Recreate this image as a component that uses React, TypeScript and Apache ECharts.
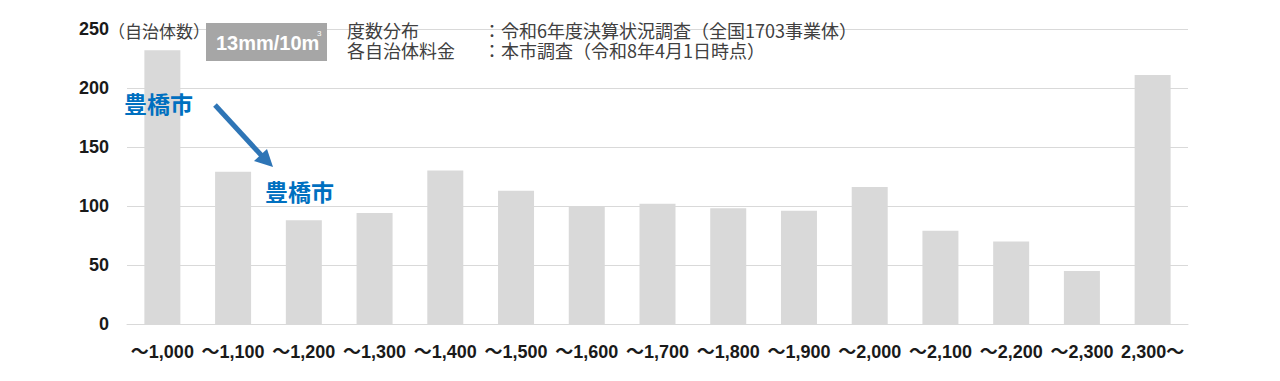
import React, { useEffect, useRef } from "react";
import * as echarts from "echarts";

const categories = ["～1,000", "～1,100", "～1,200", "～1,300", "～1,400", "～1,500", "～1,600", "～1,700", "～1,800", "～1,900", "～2,000", "～2,100", "～2,200", "～2,300", "2,300～"];
const counts = [232, 129, 88, 94, 130, 113, 100, 102, 98, 96, 116, 79, 70, 45, 211];
const yTicks = { min: 0, max: 250, interval: 50 };
const unitLabel = "（自治体数）";
const badgeText = "13mm/10m";
const legendKeys = ["度数分布", "各自治体料金"];
const legendValues = ["：令和6年度決算状況調査（全国1703事業体）", "：本市調査（令和8年4月1日時点）"];
const cityName = "豊橋市";

const CJK = "'Noto Sans CJK JP', 'Noto Sans', sans-serif";
const LAT = "'Liberation Sans', Arial, 'Noto Sans CJK JP', sans-serif";

export default function App() {
  const ref = useRef<HTMLDivElement>(null);
  useEffect(() => {
    if (!ref.current) return;
    const chart = echarts.init(ref.current, null, { renderer: "svg" });
    const textColor = "#404040";
    const t = (x: number, y: number, text: string, extra: any) => ({
      type: "text",
      x,
      y,
      z: 100,
      style: { text, fill: textColor, fontFamily: CJK, align: "left", verticalAlign: "middle", ...extra },
    });
    chart.setOption({
      animation: false,
      grid: { left: 127, right: 92, top: 29, bottom: 57, containLabel: false },
      xAxis: {
        type: "category",
        data: categories,
        axisLine: { show: true, lineStyle: { color: "#d9d9d9", width: 1 } },
        axisTick: { show: false },
        axisLabel: {
          interval: 0,
          margin: 19,
          color: "#1a1a1a",
          fontSize: 18,
          fontWeight: "bold",
          fontFamily: LAT,
        },
      },
      yAxis: {
        type: "value",
        min: yTicks.min,
        max: yTicks.max,
        interval: yTicks.interval,
        axisLine: { show: false },
        axisTick: { show: false },
        splitLine: { lineStyle: { color: "#d9d9d9", width: 1 } },
        axisLabel: {
          margin: 18,
          color: "#1a1a1a",
          fontSize: 18,
          fontWeight: "bold",
          fontFamily: LAT,
        },
      },
      series: [
        {
          type: "bar",
          data: counts,
          barWidth: 36,
          itemStyle: { color: "#d9d9d9" },
          silent: true,
          z: 2,
        },
      ],
      graphic: [
        t(108, 30, unitLabel, { fontSize: 17, lineHeight: 17 }),
        {
          type: "rect",
          z: 100,
          shape: { x: 206, y: 23, width: 121, height: 38 },
          style: { fill: "#a6a6a6" },
        },
        t(216, 43, badgeText, { fontSize: 20, lineHeight: 20, fontWeight: "bold", fill: "#ffffff", fontFamily: LAT }),
        t(317, 33, "3", { fontSize: 8, lineHeight: 8, fill: "#ffffff", fontFamily: LAT }),
        t(347, 40, legendKeys.join("\n"), { fontSize: 18, lineHeight: 20 }),
        t(483, 40, legendValues.join("\n"), { fontSize: 18, lineHeight: 20 }),
        t(124, 103, cityName, { fontSize: 23, lineHeight: 23, fontWeight: "bold", fill: "#0070c0" }),
        t(265, 191, cityName, { fontSize: 23, lineHeight: 23, fontWeight: "bold", fill: "#0070c0" }),
        {
          type: "line",
          z: 100,
          shape: { x1: 215, y1: 105, x2: 262, y2: 156 },
          style: { stroke: "#2e75b6", lineWidth: 5 },
        },
        {
          type: "polygon",
          z: 100,
          shape: { points: [[273, 167], [254, 161], [267, 149]] },
          style: { fill: "#2e75b6" },
        },
      ],
    });
    return () => chart.dispose();
  }, []);
  return (
    <div
      ref={ref}
      style={{ position: "fixed", left: 0, top: 0, width: 1280, height: 381, background: "#ffffff" }}
    />
  );
}
